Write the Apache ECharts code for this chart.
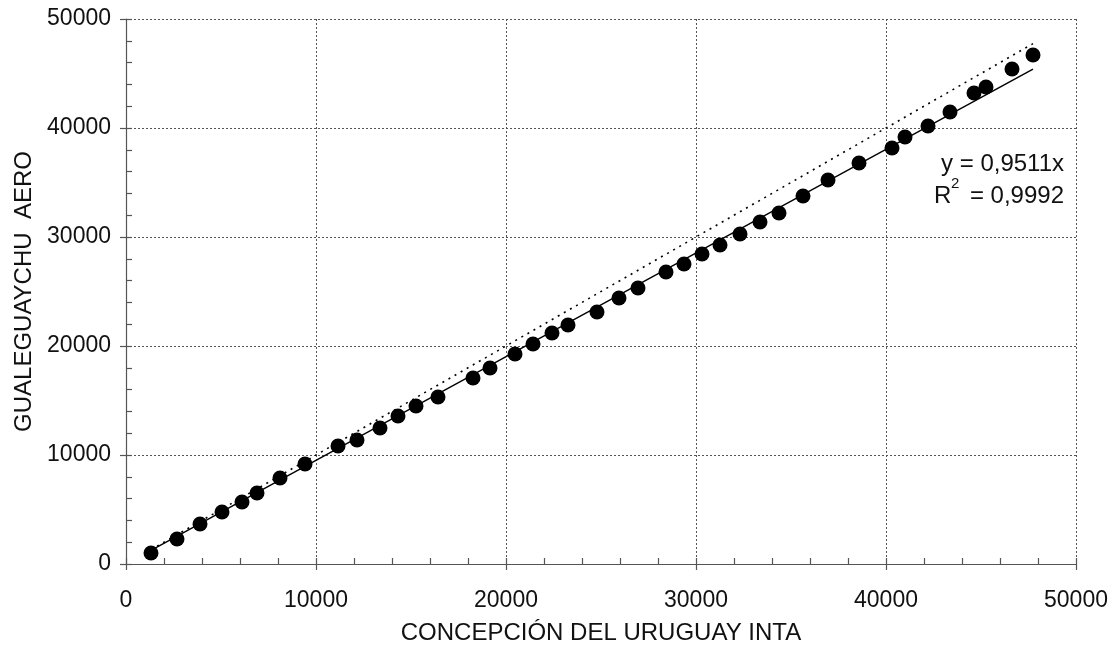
<!DOCTYPE html>
<html>
<head>
<meta charset="utf-8">
<script src="https://cdn.jsdelivr.net/npm/echarts@6/dist/echarts.min.js"></script>
<style>html,body{margin:0;padding:0;background:#fff}#c{width:1118px;height:650px}</style>
</head>
<body>
<div id="c"></div>
<script>
// Data
var concepcionX = [1316, 2684, 3895, 5053, 6105, 6895, 8105, 9421, 11158, 12158, 13368, 14316, 15263, 16421, 18263, 19158, 20474, 21421, 22421, 23263, 24789, 25947, 26947, 28421, 29368, 30316, 31263, 32316, 33368, 34368, 35632, 36947, 38579, 40316, 41000, 42211, 43368, 44632, 45263, 46632, 47737];
var gualeguaychuY = [1009, 2294, 3670, 4771, 5688, 6514, 7890, 9174, 10826, 11376, 12477, 13578, 14495, 15321, 17064, 17982, 19266, 20183, 21193, 21927, 23119, 24404, 25321, 26789, 27523, 28440, 29266, 30275, 31376, 32202, 33761, 35229, 36789, 38165, 39174, 40183, 41468, 43211, 43761, 45413, 46697];
var trendSlope = 0.9511;
var trendRange = [1316, 47737];
var xTickValues = [0, 10000, 20000, 30000, 40000, 50000];
var yTickValues = [0, 10000, 20000, 30000, 40000, 50000];
var xAxisTitle = 'CONCEPCIÓN DEL URUGUAY INTA';
var yAxisTitle = 'GUALEGUAYCHU  AERO';
var eqText = 'y = 0,9511x';
var r2Value = '= 0,9992';

var pts = concepcionX.map(function (x, i) { return [x, gualeguaychuY[i]]; });
var trend = trendRange.map(function (x) { return [x, x * trendSlope]; });
var oneToOne = trendRange.map(function (x) { return [x, x]; });

var FONT = '"Liberation Sans", Arial, sans-serif';
var axisColor = '#555';

function mainAxis(name, isX, ticks) {
  return {
    type: 'value', min: ticks[0], max: ticks[ticks.length - 1], interval: ticks[1] - ticks[0],
    name: name, nameLocation: 'middle', nameGap: isX ? 57 : 88,
    nameTextStyle: { fontFamily: FONT, fontSize: 24, color: '#111' },
    axisLine: { show: true, onZero: false, lineStyle: { color: axisColor, width: 1.2 } },
    axisTick: { show: true, inside: true, length: 6, lineStyle: { color: axisColor, width: 1.2 } },
    minorTick: { show: true, splitNumber: 5, length: 6, lineStyle: { color: axisColor, width: 1.2 } },
    axisLabel: { show: true, fontFamily: FONT, fontSize: 23, color: '#111', margin: isX ? 25 : 15,
      formatter: function (v) { return String(v); } },
    splitLine: { show: true, lineStyle: { color: '#555', width: 1, type: [2, 2] } },
    minorSplitLine: { show: false }
  };
}
function tickAxis(pos, ticks) {
  return {
    type: 'value', min: ticks[0], max: ticks[ticks.length - 1], interval: ticks[1] - ticks[0], position: pos,
    axisLine: { show: false },
    axisTick: { show: true, inside: false, length: 6, lineStyle: { color: axisColor, width: 1.2 } },
    axisLabel: { show: false }, splitLine: { show: false }
  };
}
var xa = mainAxis(xAxisTitle, true, xTickValues); xa.position = 'bottom';
var ya = mainAxis(yAxisTitle, false, yTickValues); ya.position = 'left';

var chart = echarts.init(document.getElementById('c'), null, { renderer: 'canvas' });
chart.setOption({
  animation: false,
  backgroundColor: '#fff',
  grid: { left: 126, right: 42, top: 19, bottom: 86, containLabel: false },
  xAxis: [xa, tickAxis('bottom', xTickValues)],
  yAxis: [ya, tickAxis('left', yTickValues)],
  series: [
    { type: 'line', data: oneToOne, showSymbol: false, symbol: 'none', silent: true,
      lineStyle: { color: '#000', width: 1.6, type: [2, 5] }, z: 2 },
    { type: 'line', data: trend, showSymbol: false, symbol: 'none', silent: true,
      lineStyle: { color: '#000', width: 1.4 }, z: 3 },
    { type: 'scatter', data: pts, symbol: 'circle', symbolSize: 15,
      itemStyle: { color: '#000', opacity: 1 }, z: 4 }
  ],
  graphic: [
    { type: 'text', right: 1118 - 1064, top: 152,
      style: { text: eqText, fontFamily: FONT, fontSize: 24, fill: '#111' } },
    { type: 'text', left: 934, top: 184,
      style: { text: 'R', fontFamily: FONT, fontSize: 24, fill: '#111' } },
    { type: 'text', left: 951, top: 176,
      style: { text: '2', fontFamily: FONT, fontSize: 15, fill: '#111' } },
    { type: 'text', right: 1118 - 1064, top: 184,
      style: { text: r2Value, fontFamily: FONT, fontSize: 24, fill: '#111' } }
  ]
});
</script>
</body>
</html>
